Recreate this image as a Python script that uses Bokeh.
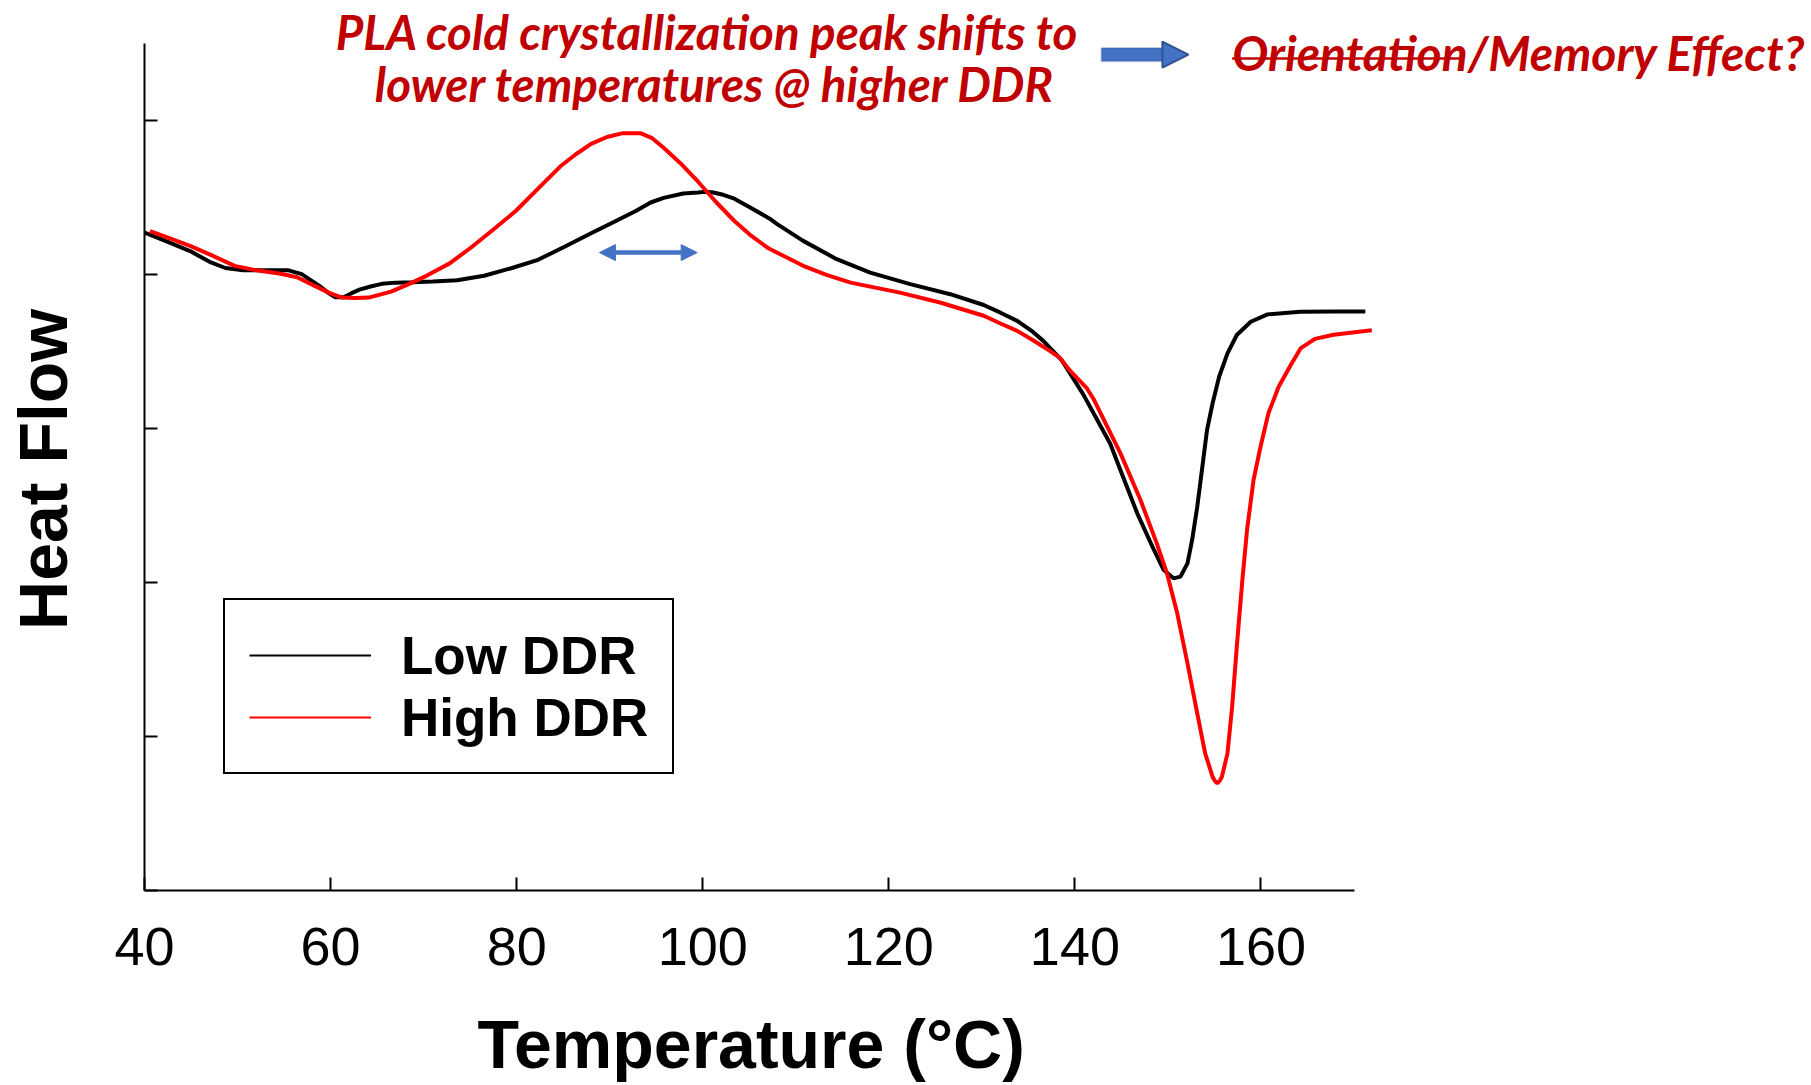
from bokeh.plotting import figure
from bokeh.models import (FixedTicker, Label, Arrow, NormalHead, BoxAnnotation,
                          Legend, LegendItem, Range1d, CustomJSTickFormatter, Title)
from bokeh.embed import file_html
from bokeh.resources import INLINE

# ---------------- data ----------------
temp_low = [40.0, 42.5, 44.9, 47.0, 48.7, 50.6, 53.0, 55.4, 56.9, 57.9, 58.8, 59.7,
            60.5, 61.4, 62.2, 63.1, 64.3, 65.5, 67.0, 68.8, 71.0, 73.6, 76.5, 79.5,
            82.3, 85.2, 88.0, 90.5, 92.8, 94.4, 95.8, 97.9, 99.5, 100.1, 101.0, 102.2,
            103.4, 105.1, 107.2, 108.0, 110.8, 114.4, 118.0, 122.3, 126.6, 130.2, 132.0,
            133.8, 135.5, 136.6, 138.6, 140.9, 143.8, 144.9, 146.7, 148.5, 149.55,
            150.6, 151.35, 152.1, 152.6, 153.15, 153.7, 154.2, 154.8, 155.5, 156.4,
            157.4, 158.9, 160.7, 164.2, 168.0, 171.2]
hf_low = [4.27, 4.21, 4.15, 4.08, 4.04, 4.026, 4.026, 4.026, 4.00, 3.96, 3.924, 3.88,
          3.85, 3.85, 3.875, 3.90, 3.92, 3.937, 3.945, 3.948, 3.952, 3.96, 3.99, 4.04,
          4.093, 4.18, 4.265, 4.34, 4.41, 4.465, 4.495, 4.523, 4.53, 4.534, 4.532, 4.515,
          4.49, 4.433, 4.36, 4.325, 4.216, 4.097, 4.01, 3.935, 3.87, 3.80, 3.75,
          3.697, 3.625, 3.567, 3.44, 3.22, 2.899, 2.728, 2.448, 2.21, 2.08,
          2.026, 2.037, 2.123, 2.275, 2.49, 2.75, 2.988, 3.162, 3.334, 3.486,
          3.605, 3.691, 3.739, 3.756, 3.757, 3.758]

temp_high = [40.6, 42.8, 44.9, 47.3, 49.7, 52.0, 54.5, 56.4, 58.3, 59.8, 61.2, 62.6,
             64.1, 66.5, 68.4, 70.3, 72.8, 75.1, 77.5, 79.9, 82.3, 84.7, 86.4, 88.0,
             89.7, 91.4, 93.3, 94.5, 95.8, 97.6, 99.5, 101.4, 103.4, 105.2, 107.0,
             110.8, 113.3, 115.9, 121.2, 125.5, 130.2, 132.0, 133.8, 135.5, 137.3,
             138.4, 139.5, 141.3, 142.0, 144.9, 147.05, 148.8, 149.9, 151.0, 152.1,
             153.15, 154.0, 154.8, 155.05, 155.3, 155.55, 155.8, 156.4, 156.9, 157.4,
             158.0, 158.5, 159.2, 159.95, 160.8, 161.9, 163.2, 164.25, 165.8, 167.8,
             171.9]
hf_high = [4.28, 4.23, 4.184, 4.12, 4.054, 4.025, 4.004, 3.98, 3.924, 3.88, 3.848, 3.845,
           3.848, 3.887, 3.935, 3.989, 4.07, 4.173, 4.29, 4.41, 4.555, 4.70, 4.78, 4.845,
           4.89, 4.915, 4.915, 4.885, 4.82, 4.72, 4.60, 4.47, 4.345, 4.25, 4.17,
           4.054, 3.995, 3.945, 3.88, 3.816, 3.73, 3.68, 3.632, 3.571, 3.502,
           3.456, 3.372, 3.258, 3.19, 2.837, 2.534, 2.253, 2.058, 1.799, 1.474,
           1.15, 0.89, 0.738, 0.71, 0.696, 0.71, 0.738, 0.89, 1.193, 1.582,
           2.015, 2.339, 2.664, 2.88, 3.097, 3.269, 3.41, 3.518, 3.58, 3.607,
           3.636]

series_names = ["Low DDR", "High DDR"]
x_ticks = [40, 60, 80, 100, 120, 140, 160]
y_ticks = [0, 1, 2, 3, 4, 5]
x_title = "Temperature (°C)"
y_title = "Heat Flow"

note_line1 = "PLA cold crystallization peak shifts to"
note_line2 = "lower temperatures @ higher DDR"
note_struck = "Orientation"
note_rest = "/Memory Effect?"

# ---------------- figure ----------------
# the frame spans the canvas to the right and top so the notes are not clipped;
# the axes themselves are limited with bounds
p = figure(frame_width=1667, frame_height=890,
           x_range=Range1d(40, 219.17), y_range=Range1d(0, 5.776),
           output_backend="svg", toolbar_location=None,
           min_border_left=144, min_border_right=0,
           min_border_top=0, min_border_bottom=195)
p.outline_line_color = None
p.grid.visible = False
p.background_fill_color = "white"
p.border_fill_color = "white"

# thin copies for the legend swatches (hidden under the main lines)
l_low = p.line(temp_low, hf_low, line_color="black", line_width=2)
l_high = p.line(temp_high, hf_high, line_color="#FF0000", line_width=2)
r_low = p.line(temp_low, hf_low, line_color="black", line_width=4)
r_high = p.line(temp_high, hf_high, line_color="#FF0000", line_width=4)

# axes
xa = p.xaxis[0]
xa.ticker = FixedTicker(ticks=x_ticks)
xa.bounds = (40, 170)
xa.major_label_standoff = 37

ya = p.yaxis[0]
ya.ticker = FixedTicker(ticks=y_ticks)
ya.bounds = (0, 5.5)
ya.formatter = CustomJSTickFormatter(code="return ''")
ya.major_label_standoff = 0
# trailing en/thin spaces move the centred title down onto the middle of the drawn axis
ya.axis_label = y_title + "\u2002\u2009"
ya.axis_label_standoff = 64
ya.axis_label_text_font = "Liberation Sans"
ya.axis_label_text_font_size = "68px"
ya.axis_label_text_font_style = "bold"
ya.axis_label_text_color = "black"

for ax in (xa, ya):
    ax.axis_line_width = 2
    ax.axis_line_color = "black"
    ax.major_tick_line_width = 2
    ax.major_tick_line_color = "black"
    ax.major_tick_in = 13
    ax.major_tick_out = 0
    ax.minor_tick_line_color = None
    ax.major_label_text_font = "Liberation Sans"
    ax.major_label_text_font_size = "54px"
    ax.major_label_text_color = "black"

# x title as a Title so it can sit under the drawn axis rather than the wide frame
p.add_layout(Title(text=x_title, align="left", offset=333, standoff=72,
                   text_font="Liberation Sans", text_font_size="68px",
                   text_font_style="bold", text_color="black"), "below")

# legend
legend = Legend(items=[LegendItem(label=series_names[0], renderers=[l_low]),
                       LegendItem(label=series_names[1], renderers=[l_high])],
                location=(79, 116), orientation="vertical",
                border_line_color="black", border_line_width=2, border_line_alpha=1,
                background_fill_color="white", background_fill_alpha=1,
                padding=24, spacing=0, margin=0,
                label_standoff=30, glyph_width=122, glyph_height=62, label_height=62,
                label_text_font="Liberation Sans", label_text_font_size="53px",
                label_text_font_style="bold", label_text_color="black")
p.add_layout(legend, "center")

# annotations
red = "#C00000"
blue = "#4472C4"
for txt, xx, yy in [(note_line1, 100.5, 5.573), (note_line2, 101.3, 5.235)]:
    p.add_layout(Label(x=xx, y=yy, text=txt, text_align="center",
                       text_baseline="alphabetic", text_font="Lato",
                       text_font_style="bold italic", text_font_size="47.5px",
                       text_color=red))

p.add_layout(Label(x=156.9, y=5.441, text=note_struck + note_rest, text_align="left",
                   text_baseline="alphabetic", text_font="Lato",
                   text_font_style="bold italic", text_font_size="48px",
                   text_color=red))
p.add_layout(Arrow(end=None, x_start=156.9, y_start=5.40, x_end=181.4, y_end=5.40,
                   line_color=red, line_width=2.5))

# block arrow
p.add_layout(BoxAnnotation(left=142.86, right=149.8, bottom=5.381, top=5.468,
                           fill_color=blue, fill_alpha=1, line_color="#2F528F",
                           line_width=2))
p.add_layout(Arrow(end=NormalHead(size=26, fill_color=blue, line_color="#2F528F",
                                  line_width=2),
                   x_start=149.0, y_start=5.425, x_end=152.2, y_end=5.425,
                   line_alpha=0))

# double arrow
p.add_layout(Arrow(start=NormalHead(size=16, fill_color=blue, line_color=blue),
                   end=NormalHead(size=16, fill_color=blue, line_color=blue),
                   x_start=88.9, y_start=4.14, x_end=99.4, y_end=4.14,
                   line_color=blue, line_width=4.5))

open("out.html", "w").write(file_html(p, INLINE))
